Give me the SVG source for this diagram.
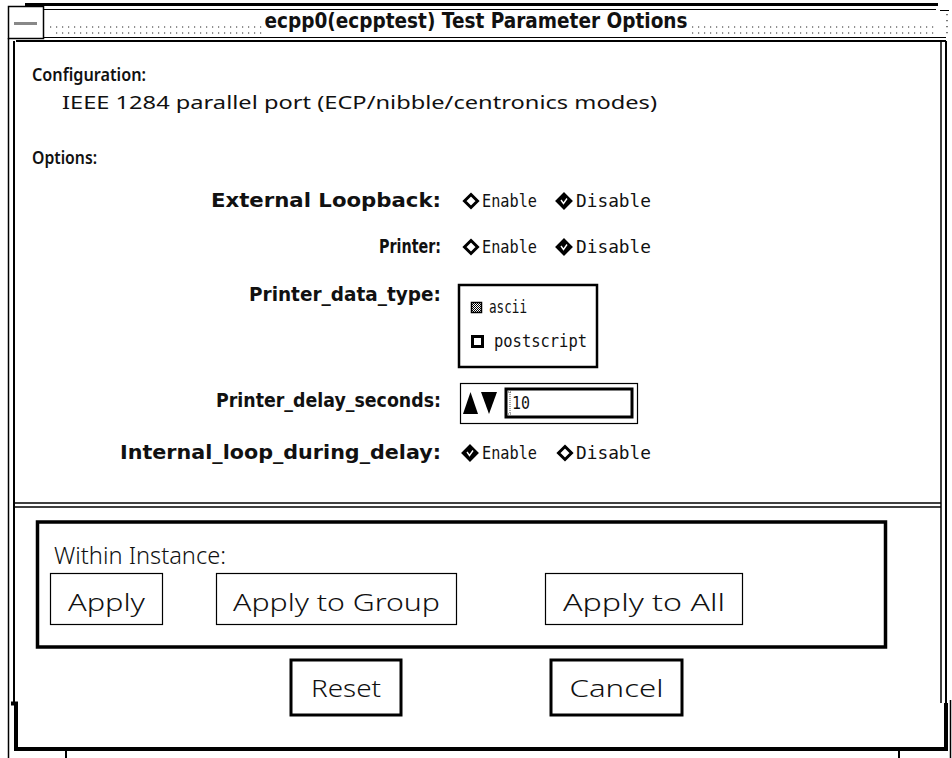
<svg xmlns="http://www.w3.org/2000/svg" width="952" height="758" viewBox="0 0 952 758">
<style>
.lbl{font-family:"DejaVu Sans","Liberation Sans",sans-serif;font-weight:bold;font-size:19px;fill:#111}
.hdr{font-family:"Noto Sans","Open Sans",sans-serif;font-weight:600;font-size:18px;fill:#111}
.reg{font-family:"Noto Sans","Open Sans",sans-serif;font-size:18px;fill:#111}
.opt{font-family:"DejaVu Sans Mono","Liberation Mono",monospace;font-size:17px;fill:#111}
.btn{font-family:"Noto Sans","Open Sans",sans-serif;font-weight:300;font-size:24px;fill:#111}
.ln{stroke:#000;fill:none}
.dots{stroke:#222;stroke-width:1.2;stroke-dasharray:1.2 4.8;fill:none}
.dmd{fill:#fff;stroke:#000;stroke-width:3}
.dmdf{fill:#000;stroke:#000;stroke-width:2}
</style>
<defs>
<pattern id="dither" width="2" height="2" patternUnits="userSpaceOnUse">
<rect width="2" height="2" fill="#fff"/><rect width="1" height="1" fill="#000"/><rect x="1" y="1" width="1" height="1" fill="#000"/>
</pattern>
<g id="dEmpty"><path class="dmd" d="M0,-6.5 L6.5,0 L0,6.5 L-6.5,0 Z"/></g>
<g id="dFull"><path class="dmdf" d="M0,-7.5 L7.5,0 L0,7.5 L-7.5,0 Z"/><path d="M-3,-1 L-0.5,2.5 L3,-2.5" stroke="#fff" stroke-width="1.4" fill="none"/></g>
</defs>
<rect width="952" height="758" fill="#fff"/>

<g id="window-frame">
<rect x="25" y="3" width="913" height="3" fill="#000"/>
<rect x="8.5" y="6.5" width="35" height="32" fill="#fff" stroke="#000" stroke-width="1.5"/>
<rect x="14" y="22" width="23" height="3" fill="#888"/>
<line class="ln" x1="44" y1="9.5" x2="936" y2="9.5" stroke-width="1"/>
<line class="ln" x1="940" y1="10.5" x2="949" y2="10.5" stroke-width="1"/>
<line class="ln" x1="44" y1="37.5" x2="946" y2="37.5" stroke-width="1"/>
<line class="ln" x1="16" y1="41" x2="946" y2="41" stroke-width="2"/>
<path class="dots" d="M50,27 H262 M56,33 H262 M692,27 H935 M692,33 H935 M947,14 V38"/>
<line class="ln" x1="8.5" y1="38" x2="8.5" y2="758" stroke-width="1.5"/>
<line class="ln" x1="14" y1="41" x2="14" y2="703" stroke-width="2"/>
<line class="ln" x1="941" y1="41" x2="941" y2="703" stroke-width="1.5"/>
<line class="ln" x1="946" y1="41" x2="946" y2="703" stroke-width="2"/>
<line class="ln" x1="950.5" y1="700" x2="950.5" y2="758" stroke-width="1.5"/>
<path class="ln" d="M11,703.5 H16 V749 H946 V703" stroke-width="4"/>
<line class="ln" x1="66" y1="751" x2="66" y2="758" stroke-width="2"/>
<line class="ln" x1="899" y1="751" x2="899" y2="758" stroke-width="2"/>
<text x="476" y="28" text-anchor="middle" font-family="DejaVu Sans,Liberation Sans,sans-serif" font-weight="bold" font-size="21" textLength="423" lengthAdjust="spacingAndGlyphs" fill="#111">ecpp0(ecpptest) Test Parameter Options</text>
</g>

<g id="configuration">
<text class="hdr" x="32" y="81" textLength="114" lengthAdjust="spacingAndGlyphs">Configuration:</text>
<text class="reg" x="62" y="109" textLength="595" lengthAdjust="spacingAndGlyphs">IEEE 1284 parallel port (ECP/nibble/centronics modes)</text>
<text class="hdr" x="32" y="164" textLength="65" lengthAdjust="spacingAndGlyphs">Options:</text>
</g>

<g id="external-loopback">
<text class="lbl" x="441" y="207" text-anchor="end" textLength="230" lengthAdjust="spacingAndGlyphs">External Loopback:</text>
<use href="#dEmpty" x="471" y="201"/>
<text class="opt" x="482" y="207" textLength="55" lengthAdjust="spacingAndGlyphs">Enable</text>
<use href="#dFull" x="564" y="201"/>
<text class="opt" x="576" y="207" textLength="75" lengthAdjust="spacingAndGlyphs">Disable</text>
</g>

<g id="printer">
<text class="lbl" x="441" y="253" text-anchor="end" textLength="62" lengthAdjust="spacingAndGlyphs">Printer:</text>
<use href="#dEmpty" x="471" y="247"/>
<text class="opt" x="482" y="253" textLength="55" lengthAdjust="spacingAndGlyphs">Enable</text>
<use href="#dFull" x="564" y="247"/>
<text class="opt" x="576" y="253" textLength="75" lengthAdjust="spacingAndGlyphs">Disable</text>
</g>

<g id="printer-data-type">
<text class="lbl" x="441" y="301" text-anchor="end" textLength="192" lengthAdjust="spacingAndGlyphs">Printer_data_type:</text>
<rect x="459" y="285" width="138" height="82" fill="#fff" stroke="#000" stroke-width="2.5"/>
<rect x="471.5" y="302.5" width="10" height="10" fill="url(#dither)" stroke="#000" stroke-width="1.5"/>
<text class="opt" x="489" y="313" textLength="38" lengthAdjust="spacingAndGlyphs">ascii</text>
<rect x="472.5" y="336.5" width="10" height="10" fill="#fff" stroke="#000" stroke-width="3"/>
<text class="opt" x="494" y="347" textLength="93" lengthAdjust="spacingAndGlyphs">postscript</text>
</g>

<g id="printer-delay-seconds">
<text class="lbl" x="441" y="407" text-anchor="end" textLength="225" lengthAdjust="spacingAndGlyphs">Printer_delay_seconds:</text>
<rect x="460.5" y="383.5" width="177" height="40" fill="#fff" stroke="#000" stroke-width="1.2"/>
<path d="M463,414 L470.5,392 L478,414 Z" fill="#000"/>
<path d="M481,392 L497,392 L489,414 Z" fill="#000"/>
<rect x="506" y="389" width="126" height="28" fill="#fff" stroke="#000" stroke-width="3"/>
<path d="M510,392 V414 M508,392 H512 M508,414 H512" stroke="#555" stroke-width="1" stroke-dasharray="1 1"/>
<text class="opt" x="512" y="409" textLength="18" lengthAdjust="spacingAndGlyphs">10</text>
</g>

<g id="internal-loop-during-delay">
<text class="lbl" x="441" y="459" text-anchor="end" textLength="321" lengthAdjust="spacingAndGlyphs">Internal_loop_during_delay:</text>
<use href="#dFull" x="470" y="453"/>
<text class="opt" x="482" y="459" textLength="55" lengthAdjust="spacingAndGlyphs">Enable</text>
<use href="#dEmpty" x="565" y="453"/>
<text class="opt" x="576" y="459" textLength="75" lengthAdjust="spacingAndGlyphs">Disable</text>
</g>

<g id="separator">
<line class="ln" x1="13" y1="503" x2="941" y2="503" stroke-width="1.5"/>
<line class="ln" x1="13" y1="507" x2="941" y2="507" stroke-width="1.5" stroke="#333"/>
</g>

<g id="within-instance">
<rect x="37.5" y="522" width="848" height="125" fill="#fff" stroke="#000" stroke-width="3.5"/>
<text class="btn" x="54" y="564" textLength="172" lengthAdjust="spacingAndGlyphs">Within Instance:</text>
</g>
<g id="btn-apply">
<rect x="50.5" y="573.5" width="112" height="51" fill="#fff" stroke="#000" stroke-width="1.2"/>
<text class="btn" x="106.5" y="611" text-anchor="middle" textLength="77" lengthAdjust="spacingAndGlyphs">Apply</text>
</g>
<g id="btn-apply-to-group">
<rect x="216.5" y="573.5" width="240" height="51" fill="#fff" stroke="#000" stroke-width="1.2"/>
<text class="btn" x="336.5" y="611" text-anchor="middle" textLength="207" lengthAdjust="spacingAndGlyphs">Apply to Group</text>
</g>
<g id="btn-apply-to-all">
<rect x="545.5" y="573.5" width="197" height="51" fill="#fff" stroke="#000" stroke-width="1.2"/>
<text class="btn" x="644" y="611" text-anchor="middle" textLength="162" lengthAdjust="spacingAndGlyphs">Apply to All</text>
</g>

<g id="btn-reset">
<rect x="291" y="660" width="110" height="55" fill="#fff" stroke="#000" stroke-width="3"/>
<text class="btn" x="346" y="697" text-anchor="middle" textLength="70" lengthAdjust="spacingAndGlyphs">Reset</text>
</g>
<g id="btn-cancel">
<rect x="551" y="660" width="131" height="55" fill="#fff" stroke="#000" stroke-width="3"/>
<text class="btn" x="616.5" y="697" text-anchor="middle" textLength="94" lengthAdjust="spacingAndGlyphs">Cancel</text>
</g>
</svg>
